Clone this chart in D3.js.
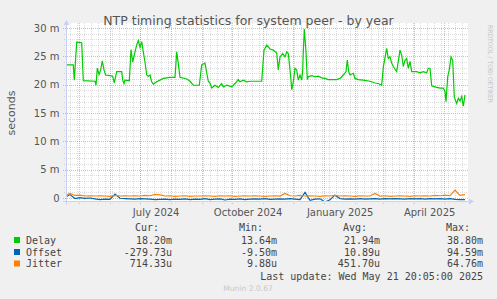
<!DOCTYPE html>
<html>
<head>
<meta charset="utf-8">
<script src="https://cdn.jsdelivr.net/npm/d3@7"></script>
<style>
  body { margin: 0; background: #f0f0f0; }
  svg { display: block; }
  text { font-family: "DejaVu Sans", sans-serif; fill: #555; }
  .mono { font-family: "DejaVu Sans Mono", monospace; font-size: 10px; fill: #444; }
</style>
</head>
<body>
<svg id="chart" width="497" height="299"></svg>
<script>
// time span of the yearly graph (400 days)
const startTime = Date.UTC(2024, 3, 16, 20, 5);
const endTime = Date.UTC(2025, 4, 21, 20, 5);

// Delay (ms), day offset from start
const delayDays = [1.7, 8.3, 9.3, 11.7, 16.7, 18.3, 30, 31, 32.3, 34, 35.7, 37.3, 39, 40.7, 45, 47.7, 49.3, 51.7, 56.7, 57.7,
  59, 60, 64.3, 66, 67.7, 70, 71.7, 73.3, 75, 76.7, 78.3, 80, 81.7, 83.3, 85, 86.7, 88.3, 91.7, 95, 98.3,
  105, 110, 111.7, 113.3, 115, 121.7, 125, 128.3, 134.3, 136.7, 140, 141.7, 143.3, 145, 146.7, 150, 153.3, 156.7, 158.3, 161.7,
  166.7, 170, 173.3, 175, 178.3, 181.7, 185, 188.3, 196.7, 199, 201.7, 205, 208.3, 211.7, 213.3, 215, 217.7, 220, 221.7, 223.3,
  224.3, 225.7, 226.7, 228.3, 230, 231.7, 233.3, 235, 236.7, 237.7, 238.3, 239.3, 241, 242.3, 243.3, 246.7, 250, 253.3, 256.7, 260,
  263.3, 271.7, 275, 278.3, 281, 282.3, 283.7, 285, 288.3, 290, 293.3, 298.3, 305, 310, 313.3, 316.7, 318.3, 321.7, 323.3, 325,
  326.7, 328.3, 331.7, 335, 336.7, 338.3, 340, 341.7, 343.3, 345, 346.7, 351.7, 355, 358.3, 361.7, 363.3, 365, 366.7, 370, 375,
  378.3, 380, 381, 382.7, 384.3, 386, 387.7, 389.3, 391.7, 393.3, 395, 396.7, 398.3, 400];
const delayValues = [23.5, 23.5, 20.8, 27.5, 27.4, 20.7, 20.6, 19.9, 22.9, 21.8, 22.6, 24.2, 22.6, 21.7, 21.6, 21.5, 20.3, 22.3, 22.3, 20.8,
  20.2, 20.8, 20.7, 26.2, 24.0, 25.8, 27.0, 27.8, 26.6, 27.6, 25.8, 24.0, 21.7, 21.5, 21.7, 20.5, 20.1, 20.5, 20.8, 21.1,
  21.3, 21.3, 25.8, 23.7, 21.3, 21.0, 20.6, 19.9, 19.9, 23.5, 23.8, 22.1, 20.6, 20.3, 19.4, 19.9, 19.5, 20.2, 19.6, 19.9,
  19.6, 20.2, 20.9, 20.5, 20.8, 20.5, 20.6, 20.6, 20.6, 26.1, 27.0, 26.3, 26.1, 25.6, 22.6, 24.9, 25.5, 24.9, 25.8, 25.5,
  23.8, 21.4, 19.1, 20.5, 22.9, 22.6, 20.8, 21.7, 20.8, 22.6, 25.8, 29.8, 25.8, 20.9, 21.4, 21.6, 21.4, 21.5, 21.2, 21.1,
  20.9, 20.9, 21.1, 21.7, 22.3, 24.35, 22.3, 21.7, 22.0, 21.1, 20.9, 20.8, 20.6, 20.3, 20.2, 19.9, 23.1, 26.4, 24.6, 24.9,
  23.8, 23.2, 22.3, 26.1, 25.2, 23.2, 24.3, 24.6, 22.9, 24.1, 22.3, 22.3, 22.1, 22.3, 22.1, 22.9, 22.9, 19.8, 19.6, 19.4,
  19.4, 18.8, 17.0, 21.4, 22.6, 24.9, 24.3, 17.8, 16.7, 17.6, 17.1, 17.9, 16.2, 18.2];

// Offset and Jitter (ms), one value every 5 days from start
const sampleStep = 5;
const offsetValues = [0.1, 0.6, -0.1, 0.05, -0.05, 0.0, -0.15, -0.3, -0.2, -0.25, 0.7, -0.05, -0.1, -0.15, -0.2, -0.1, -0.15,
  -0.2, -0.3, -0.25, -0.2, -0.3, -0.2, -0.25, -0.15, -0.3, -0.2, -0.25, -0.1, -0.3, -0.2, -0.15, -0.35, -0.2, -0.25, -0.15,
  -0.3, -0.2, -0.15, -0.2, -0.1, -0.25, -0.2, -0.15, -0.2, -0.1, -0.2, -0.3, 1.0, -0.4, -0.2, -0.15, -0.7, -0.3, 0.5, -0.1,
  -0.2, -0.15, -0.2, -0.1, -0.2, -0.15, -0.1, -0.2, -0.1, -0.15, -0.1, -0.15, -0.2, -0.1, -0.15, -0.1, -0.2, -0.1, -0.15,
  -0.1, -0.2, -0.1, -0.25, -0.3, -0.28];
const jitterValues = [0.4, 0.8, 0.45, 0.5, 0.35, 0.4, 0.35, 0.4, 0.35, 0.3, 0.45, 0.35, 0.4, 0.35, 0.4, 0.35, 0.45, 0.4,
  0.65, 0.55, 0.35, 0.4, 0.3, 0.35, 0.4, 0.3, 0.35, 0.35, 0.4, 0.35, 0.3, 0.4, 0.35, 0.4, 0.3, 0.35, 0.4, 0.35, 0.4, 0.35,
  0.3, 0.35, 0.4, 0.35, 0.8, 0.4, 0.35, 0.45, 0.35, 0.4, 0.35, 0.3, 0.4, 0.35, 0.45, 0.35, 0.4, 0.35, 0.3, 0.4, 0.35, 0.35,
  0.8, 0.35, 0.4, 0.3, 0.35, 0.4, 0.35, 0.3, 0.4, 0.35, 0.4, 0.35, 0.45, 0.4, 0.5, 0.4, 1.4, 0.45, 0.6];

const yTicks = [0, 5, 10, 15, 20, 25, 30];

const legendNames = ["Delay", "Offset", "Jitter"];
const legendColors = ["#00cc00", "#0066b3", "#ff8000"];
const curValues = ["18.20m", "-279.73u", "714.33u"];
const minValues = ["13.64m", "-9.50m", "9.88u"];
const avgValues = ["21.94m", "10.89u", "451.70u"];
const maxValues = ["38.80m", "94.59m", "64.76m"];

const svg = d3.select("#chart");
const day = 86400000;

const x = d3.scaleUtc().domain([startTime, endTime]).range([65, 465]);
const y = d3.scaleLinear().domain([0, 30]).range([198, 28]);

const plotTop = 23, plotBottom = 201.5, plotLeft = 66, plotRight = 468;

svg.append("rect").attr("width", 497).attr("height", 299).attr("fill", "#f0f0f0");
svg.append("rect").attr("x", plotLeft).attr("y", plotTop)
  .attr("width", plotRight - plotLeft).attr("height", plotBottom - plotTop).attr("fill", "#fff");

// grid
const grid = svg.append("g");
const weeks = d3.utcMonday.range(startTime, endTime);
const months = d3.utcMonth.range(startTime, endTime);
const minorY = d3.range(1, 31).filter(v => v % 5 !== 0);
const minorColor = "rgba(143,143,143,0.3)", majorColor = "rgba(224,79,79,0.45)";

grid.selectAll(".vminor").data(weeks).join("line")
  .attr("x1", d => Math.round(x(d)) + 0.5).attr("x2", d => Math.round(x(d)) + 0.5)
  .attr("y1", plotTop).attr("y2", plotBottom + 2)
  .attr("stroke", minorColor).attr("stroke-dasharray", "1,1");
grid.selectAll(".hminor").data(minorY).join("line")
  .attr("x1", plotLeft - 2).attr("x2", plotRight)
  .attr("y1", d => Math.round(y(d)) + 0.5).attr("y2", d => Math.round(y(d)) + 0.5)
  .attr("stroke", minorColor).attr("stroke-dasharray", "1,1");
grid.selectAll(".vmajor").data(months).join("line")
  .attr("x1", d => Math.round(x(d)) + 0.5).attr("x2", d => Math.round(x(d)) + 0.5)
  .attr("y1", plotTop).attr("y2", plotBottom + 3)
  .attr("stroke", majorColor).attr("stroke-dasharray", "1,1");
grid.selectAll(".hmajor").data(yTicks).join("line")
  .attr("x1", plotLeft - 3).attr("x2", plotRight)
  .attr("y1", d => Math.round(y(d)) + 0.5).attr("y2", d => Math.round(y(d)) + 0.5)
  .attr("stroke", majorColor).attr("stroke-dasharray", "1,1");

// series
svg.append("clipPath").attr("id", "clip").append("rect")
  .attr("x", plotLeft).attr("y", plotTop).attr("width", plotRight - plotLeft).attr("height", plotBottom - plotTop);

const line = d3.line().x(d => x(startTime + d[0] * day)).y(d => y(d[1]));
const seriesData = [
  delayDays.map((d, i) => [d, delayValues[i]]),
  offsetValues.map((v, i) => [i * sampleStep, v]),
  jitterValues.map((v, i) => [i * sampleStep, v])
];
svg.append("g").attr("clip-path", "url(#clip)")
  .selectAll("path").data(seriesData).join("path")
  .attr("d", line).attr("fill", "none")
  .attr("stroke", (d, i) => legendColors[i]).attr("stroke-width", 1.2);

// axes lines + arrows
const axisColor = "#c8d0f8";
svg.append("line").attr("x1", plotLeft + 0.5).attr("x2", plotLeft + 0.5).attr("y1", plotBottom + 3).attr("y2", 24)
  .attr("stroke", axisColor);
svg.append("path").attr("d", `M${plotLeft - 2.5},25 L${plotLeft + 0.5},20 L${plotLeft + 3.5},25 Z`).attr("fill", axisColor);
svg.append("line").attr("x1", plotLeft - 3).attr("x2", 470).attr("y1", plotBottom).attr("y2", plotBottom)
  .attr("stroke", axisColor);
svg.append("path").attr("d", `M469,${plotBottom - 3} L474,${plotBottom} L469,${plotBottom + 3} Z`).attr("fill", axisColor);

// tick labels
const yAxis = svg.append("g").attr("transform", "translate(65,0)")
  .call(d3.axisLeft(y).tickValues(yTicks).tickSize(0).tickPadding(5.5)
    .tickFormat(d => d === 0 ? "0" : d + " m"));
yAxis.select(".domain").remove();
yAxis.selectAll("text").attr("font-size", 10).attr("font-family", "DejaVu Sans").attr("fill", "#555");

const labelMonths = months.filter(d => d.getUTCMonth() % 3 === 0);
const labelDates = labelMonths.map(d => new Date((+d + +d3.utcMonth.offset(d, 1)) / 2));
const xAxis = svg.append("g").attr("transform", `translate(0,${plotBottom})`)
  .call(d3.axisBottom(x).tickValues(labelDates).tickSize(0).tickPadding(7)
    .tickFormat(d3.utcFormat("%B %Y")));
xAxis.select(".domain").remove();
xAxis.selectAll("text").attr("font-size", 10).attr("font-family", "DejaVu Sans").attr("fill", "#555");

// title, axis label, watermark
svg.append("text").attr("x", 248.5).attr("y", 24.5).attr("text-anchor", "middle")
  .attr("font-size", 12.5).text("NTP timing statistics for system peer - by year");
svg.append("text").attr("transform", "translate(15,113) rotate(-90)").attr("text-anchor", "middle")
  .attr("font-size", 11).text("seconds");
svg.append("text").attr("transform", "translate(488,25) rotate(90)")
  .attr("font-size", 6.5).attr("textLength", 78).attr("lengthAdjust", "spacingAndGlyphs")
  .style("fill", "#c8c8c8").text("RRDTOOL / TOBI OETIKER");

// legend
const legend = svg.append("g");
const headers = [["Cur:", 159], ["Min:", 263], ["Avg:", 367], ["Max:", 470]];
legend.selectAll(".hdr").data(headers).join("text").attr("class", "mono")
  .attr("x", d => d[1]).attr("y", 230.5).attr("text-anchor", "end").text(d => d[0]);

const rowY = [243.5, 255.5, 267];
const rows = legend.selectAll(".row").data(legendNames).join("g")
  .attr("transform", (d, i) => `translate(0,${rowY[i]})`);
rows.append("rect").attr("x", 14).attr("y", -6.5).attr("width", 6).attr("height", 6)
  .attr("fill", (d, i) => legendColors[i]);
rows.append("text").attr("class", "mono").attr("x", 26).text(d => d);
const cols = [[curValues, 172], [minValues, 277], [avgValues, 380], [maxValues, 483]];
cols.forEach(([vals, cx]) => {
  rows.append("text").attr("class", "mono").attr("x", cx).attr("text-anchor", "end")
    .text((d, i) => vals[i]);
});

svg.append("text").attr("class", "mono").attr("x", 483).attr("y", 279.5).attr("text-anchor", "end")
  .text("Last update: Wed May 21 20:05:00 2025");
svg.append("text").attr("x", 248).attr("y", 291).attr("text-anchor", "middle")
  .attr("font-size", 7.6).style("fill", "#c8c8c8").text("Munin 2.0.67");
</script>
</body>
</html>
